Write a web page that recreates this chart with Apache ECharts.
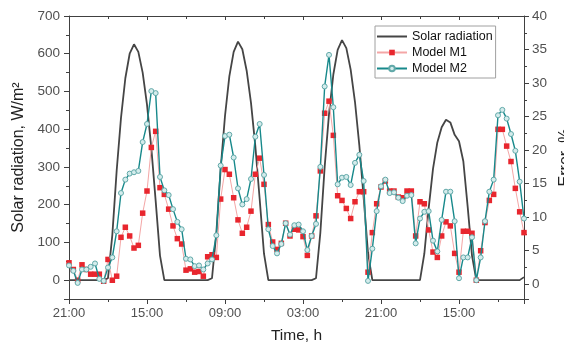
<!DOCTYPE html>
<html><head><meta charset="utf-8">
<script src="https://cdn.jsdelivr.net/npm/echarts@6/dist/echarts.min.js"></script>
<style>html,body{margin:0;padding:0;background:#fff}#c{width:564px;height:345px}</style>
</head><body><div id="c"></div>
<script>
// hourly samples, starting at 21:00
const tickLabels = ['21:00','15:00','09:00','03:00','21:00','15:00'];
const seriesNames = ['Solar radiation','Model M1','Model M2'];

// Solar radiation, W/m2 (left axis)
const solar = [
  0,0,0,0,0,0,0,0,0,
  5,120,290,430,535,600,625,605,550,465,350,210,65,0,
  0,0,0,0,0,0,0,0,0,0,
  5,125,295,435,540,605,632,612,555,470,355,215,70,0,
  0,0,0,0,0,0,0,0,0,0,
  5,125,300,440,545,610,636,615,558,472,357,218,72,0,
  0,0,0,0,0,0,0,0,0,0,
  0,70,190,295,365,405,425,418,385,368,315,195,65,0,
  0,0,0,0,0,0,0,0,0,0,
  8
];

// Error, % (right axis)
const modelM1 = [
  3.2,2.2,0.6,2.9,2.2,1.5,1.5,1.5,0.45,3.7,
  0.6,1.2,7.0,8.5,7.2,5.4,5.8,10.6,13.9,20.4,
  22.8,14.4,13.4,11.2,8.7,6.8,6.0,2.1,2.3,1.8,
  1.9,1.2,4.1,4.4,4.0,12.7,17.1,16.4,12.9,9.6,
  7.6,8.5,10.9,16.4,18.8,14.9,8.9,6.3,5.2,6.1,
  9.1,7.2,8.2,8.1,7.1,4.3,7.2,10.2,16.9,25.5,
  27.3,22.2,13.2,12.5,11.3,9.8,12.3,13.8,13.8,1.8,
  7.7,12.0,14.5,15.4,13.9,13.9,13.0,12.9,13.9,13.9,
  7.2,12.3,12.0,8.1,4.8,4.0,7.2,9.3,8.7,4.6,
  1.8,7.9,7.9,7.6,0.6,5.0,9.2,12.5,13.4,23.1,
  23.1,20.6,18.3,14.3,10.8,7.7
];
const modelM2 = [
  2.8,2.0,0.2,2.2,2.2,2.6,3.1,0.8,0.5,2.5,
  4.0,7.9,13.6,15.6,16.5,16.7,16.9,21.2,23.9,28.8,
  28.5,16.0,14.0,13.3,11.2,9.3,8.2,3.8,3.7,2.7,
  2.8,2.2,3.1,3.7,7.3,17.7,22.1,22.3,18.9,14.3,
  11.9,12.7,15.7,22.0,23.9,16.3,8.2,5.7,4.6,6.0,
  9.1,7.4,8.8,8.9,7.9,5.1,7.2,9.0,17.5,29.5,
  34.2,26.4,14.9,15.9,16.0,14.8,18.1,19.3,15.4,0.5,
  5.3,10.9,14.6,15.6,13.6,13.7,12.9,12.4,13.2,13.3,
  6.1,9.8,10.8,10.9,6.5,4.9,9.6,13.8,13.8,9.4,
  0.9,4.0,4.0,7.0,0.6,4.0,9.4,13.8,15.6,25.2,
  26.0,24.7,22.4,19.9,15.3,9.8
];

const FONT = '"Liberation Sans", Arial, sans-serif';
const AX = '#404040';
const LBL = '#505050';
const pairs = arr => arr.map((v, i) => [i, v]);

const chart = echarts.init(document.getElementById('c'), null, {renderer: 'canvas'});
const xCommon = {
  type: 'value', min: 0, max: 105, interval: 18,
  splitLine: {show: false},
  axisLine: {show: true, onZero: false, lineStyle: {color: AX, width: 1}},
};
chart.setOption({
  animation: false,
  backgroundColor: '#fff',
  grid: {left: 69, right: 40, top: 16, bottom: 46, containLabel: false, outerBoundsMode: 'none'},
  legend: {
    data: [
      {name: seriesNames[0], itemStyle: {opacity: 0}},
      {name: seriesNames[1]},
      {name: seriesNames[2]}
    ],
    orient: 'vertical', left: 375, top: 26,
    itemWidth: 30, itemHeight: 7, itemGap: 3,
    padding: [4, 3, 3, 1],
    borderColor: '#a0a0a0', borderWidth: 1, backgroundColor: '#fff',
    textStyle: {fontFamily: FONT, fontSize: 12.5, color: '#111', lineHeight: 13}
  },
  xAxis: [
    Object.assign({}, xCommon, {
      position: 'bottom',
      axisTick: {show: true, inside: false, length: 5, lineStyle: {color: AX}},
      minorTick: {show: true, splitNumber: 2, length: 3, lineStyle: {color: AX}},
      axisLabel: {show: true, margin: 8, color: LBL, fontFamily: FONT, fontSize: 13,
        formatter: v => (v % 18 === 0 && tickLabels[v / 18] !== undefined) ? tickLabels[v / 18] : ''},
      name: 'Time, h', nameLocation: 'middle', nameGap: 29,
      nameTextStyle: {fontFamily: FONT, fontSize: 15.5, color: '#222'}
    }),
    Object.assign({}, xCommon, {
      position: 'top',
      axisTick: {show: true, inside: true, length: 4, lineStyle: {color: AX}},
      minorTick: {show: true, splitNumber: 2, length: 3, lineStyle: {color: AX}},
      axisLabel: {show: false}
    })
  ],
  yAxis: [
    {
      type: 'value', min: -50, max: 700, splitNumber: 7, position: 'left',
      splitLine: {show: false},
      axisLine: {show: true, onZero: false, lineStyle: {color: AX, width: 1}},
      axisTick: {show: true, inside: false, length: 5, lineStyle: {color: AX}},
      minorTick: {show: true, splitNumber: 2, length: 3, lineStyle: {color: AX}},
      axisLabel: {show: true, margin: 9, color: LBL, fontFamily: FONT, fontSize: 13.5,
        formatter: v => v < 0 ? '' : String(v)},
      name: 'Solar radiation, W/m\u00b2', nameLocation: 'middle', nameGap: 40, nameRotate: 90,
      nameTextStyle: {fontFamily: FONT, fontSize: 16, color: '#222'}
    },
    {
      type: 'value', min: -2.2, max: 40, splitNumber: 8, position: 'right',
      splitLine: {show: false},
      axisLine: {show: true, onZero: false, lineStyle: {color: AX, width: 1}},
      axisTick: {show: true, inside: false, length: 5, lineStyle: {color: AX}},
      minorTick: {show: true, splitNumber: 2, length: 3, lineStyle: {color: AX}},
      axisLabel: {show: true, margin: 8, color: LBL, fontFamily: FONT, fontSize: 13.5,
        formatter: v => v < 0 ? '' : String(v)},
      name: 'Error, %', nameLocation: 'middle', nameGap: 23, nameRotate: 90,
      nameTextStyle: {fontFamily: FONT, fontSize: 16, color: '#222'}
    }
  ],
  series: [
    {
      name: seriesNames[0], type: 'line', xAxisIndex: 0, yAxisIndex: 0,
      data: pairs(solar), showSymbol: false, symbol: 'none',
      lineStyle: {color: '#454545', width: 1.8}, itemStyle: {color: '#454545'}, z: 2
    },
    {
      name: seriesNames[1], type: 'line', xAxisIndex: 0, yAxisIndex: 1,
      data: pairs(modelM1), symbol: 'rect', symbolSize: 5.5,
      lineStyle: {color: '#f4a6a6', width: 1},
      itemStyle: {color: '#e8262e'}, z: 3
    },
    {
      name: seriesNames[2], type: 'line', xAxisIndex: 0, yAxisIndex: 1,
      data: pairs(modelM2), symbol: 'circle', symbolSize: 5,
      lineStyle: {color: '#17898b', width: 1.4},
      itemStyle: {color: '#d4ecec', borderColor: '#62a9a9', borderWidth: 1}, z: 4
    }
  ]
});
</script>
</body></html>
